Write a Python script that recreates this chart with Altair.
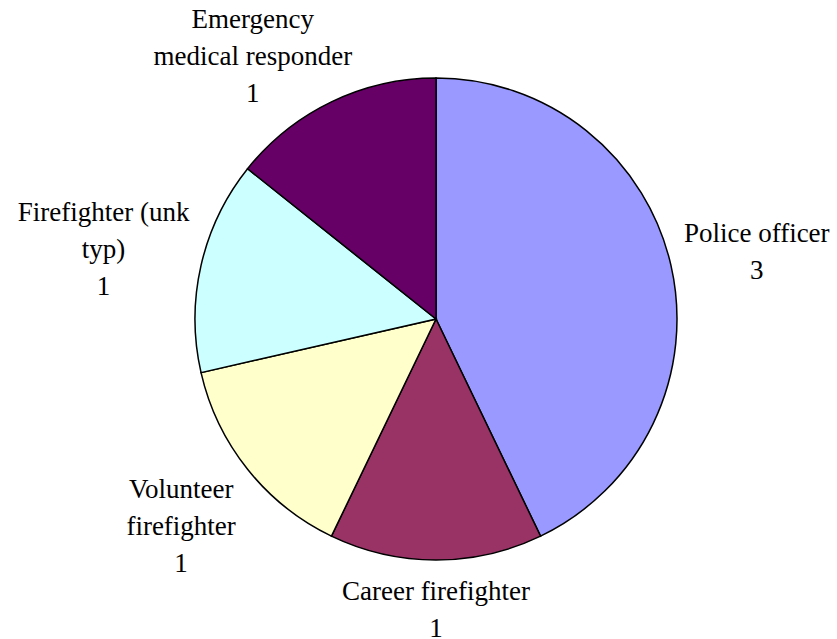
import altair as alt
import pandas as pd

categories = ["Police officer", "Career firefighter", "Volunteer firefighter",
              "Firefighter (unk typ)", "Emergency medical responder"]
label_lines = ["Police officer", "Career firefighter", "Volunteer\nfirefighter",
               "Firefighter (unk\ntyp)", "Emergency\nmedical responder"]
counts = [3, 1, 1, 1, 1]
colors = ["#9999FF", "#993366", "#FFFFCC", "#CCFFFF", "#660066"]

df = pd.DataFrame({
    "category": categories,
    "name": label_lines,
    "count": counts,
    "order": list(range(len(categories))),
})

FONT = "Liberation Serif"
LINE_H = 37

pie = alt.Chart(df).mark_arc(outerRadius=241, stroke="black", strokeWidth=1.5).encode(
    theta=alt.Theta("count:Q", stack=True),
    order=alt.Order("order:Q", sort="ascending"),
    color=alt.Color("category:N", scale=alt.Scale(domain=categories, range=colors), legend=None),
)

base = alt.Chart(df).transform_window(
    cum="sum(count)", sort=[alt.SortField("order", order="ascending")]
).transform_joinaggregate(
    total="sum(count)"
).transform_calculate(
    mid="(datum.cum - datum.count / 2) / datum.total",
    label="datum.name + '\\n' + datum.count",
)

# label placement per slice: (radius, dx, dy) for the centre of the text block
placement = {
    "Police officer": (329, 0, 7),
    "Career firefighter": (291, 0, 0),
    "Volunteer firefighter": (326, 0, 5),
    "Firefighter (unk typ)": (341, 0, 7),
    "Emergency medical responder": (300, -53, 8),
}

layers = [pie]
for cat, name in zip(categories, label_lines):
    r, dx, dy = placement[cat]
    n_lines = name.count("\n") + 2
    layers.append(
        base.transform_filter(alt.datum.category == cat).mark_text(
            radius=r, dx=dx, dy=dy - (n_lines - 1) * LINE_H / 2,
            font=FONT, fontSize=27, lineHeight=LINE_H,
            align="center", baseline="middle", color="black", lineBreak="\n",
        ).encode(
            theta=alt.Theta("mid:Q", scale=alt.Scale(domain=[0, 1]), stack=None),
            text="label:N",
        )
    )

chart = alt.layer(*layers).resolve_scale(theta="independent").properties(
    width=802, height=638,
    autosize=alt.AutoSizeParams(type="none"),
    padding={"left": 35, "top": 0, "right": 0, "bottom": 0},
    background="white",
).configure_view(stroke=None)

chart.save("out.html", embed_options={"renderer": "svg", "actions": False})
